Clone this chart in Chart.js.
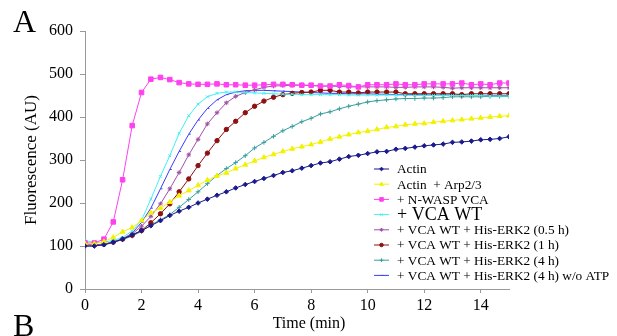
<!DOCTYPE html>
<html><head><meta charset="utf-8">
<script src="https://cdn.jsdelivr.net/npm/chart.js@4.4.0/dist/chart.umd.min.js"></script>
<style>html,body{margin:0;padding:0;background:#fff}#wrap{position:relative;width:617px;height:336px}</style>
</head><body><div id="wrap"><canvas id="c" width="617" height="336"></canvas></div>
<script>
const times = [0,0.33,0.67,1,1.33,1.67,2,2.33,2.67,3,3.33,3.67,4,4.33,4.67,5,5.33,5.67,6,6.33,6.67,7,7.33,7.67,8,8.33,8.67,9,9.33,9.67,10,10.33,10.67,11,11.33,11.67,12,12.33,12.67,13,13.33,13.67,14,14.33,14.67,15];

const seriesLabels = ["Actin","Actin  + Arp2/3","+ N-WASP VCA","+ VCA WT","+ VCA WT + His-ERK2 (0.5 h)","+ VCA WT + His-ERK2 (1 h)","+ VCA WT + His-ERK2 (4 h)","+ VCA WT + His-ERK2 (4 h) w/o ATP"];

const actin = [100,100,103,109,116,126,136,147,159,171,181,190,200,209,218,226,235,243,250,257,264,271,275,281,287,293,296,302,308,311,315,319,320,325,327,330,333,335,337,341,342,344,347,348,350,354];
const actinArp = [105,105,110,120,133,143,159,177,188,202,217,229,241,253,263,270,280,289,298,306,313,320,326,331,336,342,349,354,359,364,367,371,376,378,382,384,385,388,390,392,394,396,398,400,402,403];
const nwaspVCA = [107,107,116,156,254,380,457,488,492,487,480,477,476,476,477,475,475,474,474,475,476,476,475,474,474,472,472,475,473,470,475,475,475,477,475,475,477,477,477,477,479,475,477,475,479,479];
const vcaWT = [113,108,109,113,120,135,160,209,262,310,362,403,430,447,455,458,458,457,456,455,454,453,453,452,452,452,452,452,451,451,451,451,451,451,451,450,450,450,450,450,450,450,450,449,449,449];
const erk05h = [103,102,104,110,117,128,146,169,198,233,271,312,348,384,410,433,448,457,463,469,472,473,474,474,473,472,472,471,470,470,470,470,470,469,469,470,470,470,469,467,468,468,468,468,468,468];
const erk1h = [105,103,104,109,116,125,136,154,175,198,226,256,287,316,345,371,390,410,425,437,446,452,455,457,458,462,462,458,458,456,458,458,458,458,454,454,454,454,454,454,452,454,454,454,454,454];
const erk4h = [103,102,104,108,115,123,134,149,161,173,190,208,226,245,264,280,294,310,328,341,355,368,378,389,397,407,412,419,425,430,435,438,440,442,443,443,444,444,445,447,447,447,447,448,448,448];
const erk4hNoATP = [100,100,103,108,116,130,155,188,233,278,320,360,393,420,440,452,458,461,462,462,461,460,459,458,457,456,455,455,454,454,454,453,453,452,452,452,451,451,451,451,450,450,450,450,450,450];

const yTicks = [0,100,200,300,400,500,600];
const xTicks = [0,2,4,6,8,10,12,14];

const styles = [
  {color:'#1a1a8c', point:'rectRot', r:2.3},
  {color:'#f2f200', point:'triangle', r:2.8},
  {color:'#ff40f0', point:'rect', r:3.2},
  {color:'#40f0f0', point:'crossRot', r:2},
  {color:'#a050a8', point:'star', r:2.3},
  {color:'#8e1010', point:'circle', r:2.2},
  {color:'#3a9e9e', point:'cross', r:2.3},
  {color:'#3a3aff', point:'dash', r:2}
];
const values = [actin, actinArp, nwaspVCA, vcaWT, erk05h, erk1h, erk4h, erk4hNoATP];

const datasets = values.map((v,i)=>({
  label: seriesLabels[i],
  data: v.map((y,j)=>({x:times[j], y:y})),
  borderColor: styles[i].color,
  backgroundColor: styles[i].color,
  pointBackgroundColor: styles[i].color,
  pointBorderColor: styles[i].color,
  pointStyle: styles[i].point,
  pointRadius: styles[i].r,
  pointBorderWidth: 1,
  borderWidth: 1,
  tension: 0,
  fill: false
}));

const serif = '"Liberation Serif", "Times New Roman", serif';

const decor = {
  id:'decor',
  afterDraw(chart){
    const ctx = chart.ctx;
    ctx.save();
    chart.data.datasets.forEach((ds,i)=>{
      const y = 169 + i*15.2;
      ctx.strokeStyle = ds.borderColor; ctx.lineWidth = 1;
      ctx.beginPath(); ctx.moveTo(374,y); ctx.lineTo(389,y); ctx.stroke();
      ctx.fillStyle = ds.pointBackgroundColor; ctx.strokeStyle = ds.pointBorderColor;
      Chart.helpers.drawPoint(ctx,{pointStyle:ds.pointStyle, radius:ds.pointRadius*0.8, borderWidth:1, rotation:0}, 381.5, y);
      ctx.fillStyle = '#000';
      ctx.textBaseline = 'middle';
      ctx.textAlign = 'left';
      ctx.font = (i===3 ? '18px ' : '13.3px ') + serif;
      ctx.fillText(ds.label, 397, y+1);
    });
    ctx.fillStyle = '#000';
    ctx.textBaseline = 'alphabetic';
    ctx.textAlign = 'left';
    ctx.font = '32px ' + serif;
    ctx.fillText('A', 13, 32);
    ctx.fillText('B', 13, 336);
    ctx.font = '16px ' + serif;
    ctx.textAlign = 'center';
    ctx.fillText('Time (min)', 309, 328);
    ctx.restore();
  }
};

new Chart(document.getElementById('c'), {
  type:'line',
  data:{datasets},
  plugins:[decor],
  options:{
    responsive:false,
    devicePixelRatio:1,
    animation:false,
    layout:{padding:{top:31,right:108,left:0,bottom:0}},
    plugins:{legend:{display:false}, tooltip:{enabled:false}},
    scales:{
      x:{
        type:'linear', min:0, max:15,
        afterBuildTicks: ax => { ax.ticks = xTicks.map(v=>({value:v})); },
        afterFit: ax => { ax.height = 47; },
        grid:{drawOnChartArea:false, drawTicks:true, tickLength:4, color:'#999'},
        border:{display:true, color:'#999', width:1},
        ticks:{color:'#000', font:{family:serif, size:16}, padding:3, maxRotation:0}
      },
      y:{
        type:'linear', min:0, max:600,
        afterBuildTicks: ax => { ax.ticks = yTicks.map(v=>({value:v})); },
        afterFit: ax => { ax.width = 85; },
        grid:{drawOnChartArea:false, drawTicks:true, tickLength:5, color:'#999'},
        border:{display:true, color:'#999', width:1},
        ticks:{color:'#000', font:{family:serif, size:16}, padding:7},
        title:{display:true, text:'Fluorescence (AU)', color:'#000', font:{family:serif, size:17}, padding:{top:21,bottom:0}}
      }
    }
  }
});
</script></body></html>
